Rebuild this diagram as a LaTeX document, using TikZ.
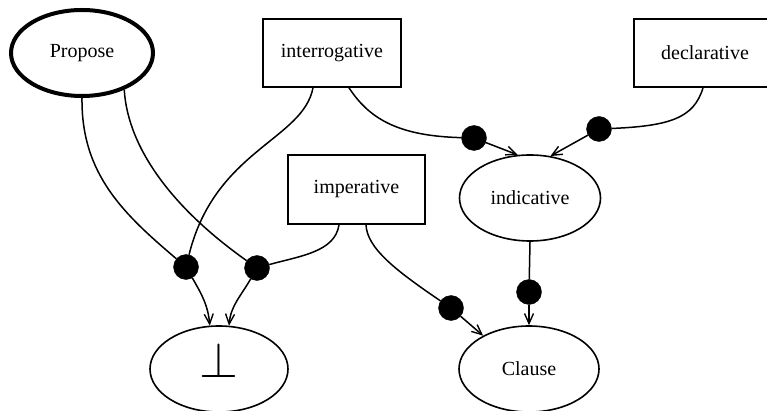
\RequirePackage{fix-cm}
\documentclass[tikz,border=0pt]{standalone}
\usepackage{fontspec}
\setmainfont{Liberation Serif}
\usetikzlibrary{shapes.geometric,arrows.meta,calc}

\tikzset{
  every node/.style={font=\fontsize{20}{24}\selectfont},
  typebox/.style={draw, line width=1.6pt, rectangle, inner sep=0pt},
  typeoval/.style={draw, line width=1.6pt, ellipse, inner sep=0pt},
  joint/.style={circle, fill=black, draw=black, minimum size=25pt, inner sep=0pt},
  link/.style={line width=1.5pt},
  feed/.style={line width=1.5pt, -{Straight Barb[length=10pt,width=9pt,line width=1.4pt]}},
}

\begin{document}
\begin{tikzpicture}[x=1pt, y=-1pt]
  \clip (0,0) rectangle (767,411);
  \fill[white] (0,0) rectangle (767,411);

  % type nodes
  \node[typeoval, line width=4pt, minimum width=142pt, minimum height=86pt] (propose) at (82,53) {Propose};
  \node[typebox, minimum width=138pt, minimum height=68pt] (interrog) at (332,53) {interrogative};
  \node[typebox, minimum width=142pt, minimum height=68pt] (decl) at (705,53) {declarative};
  \node[typebox, minimum width=137pt, minimum height=69pt] (imper) at (356.5,189.5) {imperative};
  \node[typeoval, minimum width=141pt, minimum height=86pt] (indic) at (530,198) {indicative};
  \node[typeoval, minimum width=138pt, minimum height=86pt] (bottom) at (219,369) {};
  \node[font=\fontsize{50}{50}\selectfont] (perp) at (219,360) {$\perp$};
  \node[typeoval, minimum width=140pt, minimum height=86pt] (clause) at (529,369) {Clause};

  % junction dots
  \node[joint] (j1) at (186,267) {};
  \node[joint] (j2) at (257,268) {};
  \node[joint] (j3) at (474,138) {};
  \node[joint] (j4) at (599,129) {};
  \node[joint] (j5) at (451,308) {};
  \node[joint] (j6) at (529,292) {};

  % incoming lines to the junctions
  \draw[link] (propose.south) .. controls (81,175) and (125,215) .. (j1);
  \draw[link] (propose.-41) .. controls (128,150) and (175,210) .. (j2);
  \draw[link] ($(interrog.south)+(-19,0)$) .. controls (303,140) and (215,150) .. (j1);
  \draw[link] ($(interrog.south)+(17,0)$) .. controls (370,120) and (400,136) .. (j3);
  \draw[link] ($(decl.south)+(-2,0)$) .. controls (694,118) and (670,126) .. (j4);
  \draw[link] ($(imper.south)+(-17.5,0)$) .. controls (335,252) and (300,256) .. (j2);
  \draw[link] ($(imper.south)+(9.5,0)$) .. controls (367,248) and (395,270) .. (j5);
  \draw[link] (indic.south) -- (j6);

  % arrows from the junctions to the targets
  \draw[feed] (j1) to[out=-60, in=95] (bottom.102);
  \draw[feed] (j2) to[out=-120, in=85] (bottom.77);
  \draw[feed] (j3) -- (indic.106);
  \draw[feed] (j4) -- (indic.64);
  \draw[feed] (j5) -- (clause.144);
  \draw[feed] (j6) -- (clause.north);
\end{tikzpicture}
\end{document}
